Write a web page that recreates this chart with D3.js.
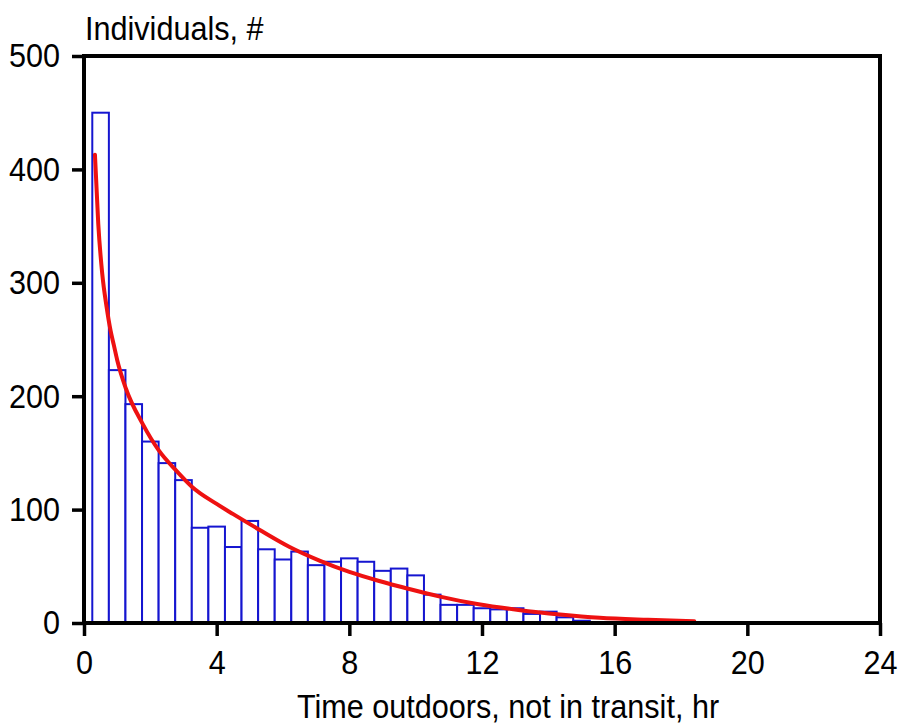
<!DOCTYPE html>
<html>
<head>
<meta charset="utf-8">
<script src="https://cdn.jsdelivr.net/npm/d3@7"></script>
<style>
  body { margin: 0; background: #fff; }
  svg text { font-family: "Liberation Sans", Arial, sans-serif; fill: #000; }
</style>
</head>
<body>
<div id="chart"></div>
<script>
// histogram bin centres (hr) and counts
const binCentres = [0.5, 1, 1.5, 2, 2.5, 3, 3.5, 4, 4.5, 5, 5.5, 6, 6.5, 7, 7.5,
  8, 8.5, 9, 9.5, 10, 10.5, 11, 11.5, 12, 12.5, 13, 13.5, 14, 14.5, 15];
const counts = [450, 223, 193, 160, 141, 126, 84, 85, 67, 90, 65, 56, 63, 51, 54,
  57, 54, 46, 48, 42, 25, 16, 16, 13, 12, 13, 8, 10, 5, 2];
const binWidth = 0.5;

// fitted curve
const fitX = [0.33, 0.43, 0.55, 0.68, 0.8, 0.9, 1.0, 1.26, 1.76, 2.26, 2.76, 3.26,
  4.0, 4.5, 5.3, 6.2, 7.1, 8.0, 8.9, 9.8, 10.7, 11.9, 13.1, 14.35, 15.55, 17.0, 18.4];
const fitY = [413, 352, 308, 279, 258, 245, 232, 207, 176, 152, 135, 120,
  105, 96, 82, 67, 55, 45, 37, 30, 23.5, 16.5, 11.5, 7.5, 4.6, 2.8, 1.5];

const xTicks = [0, 4, 8, 12, 16, 20, 24];
const yTicks = [0, 100, 200, 300, 400, 500];

const margin = { top: 56, right: 27, bottom: 101, left: 84 },
  width = 907 - margin.left - margin.right,
  height = 724 - margin.top - margin.bottom;

const fontSize = 34,
  squeeze = 0.9; // the labels are a narrow sans

const svg = d3
  .select("#chart")
  .append("svg")
  .attr("width", 907)
  .attr("height", 724);

const g = svg
  .append("g")
  .attr("transform", "translate(" + margin.left + "," + margin.top + ")");

const xScale = d3.scaleLinear().domain([0, 24]).range([0, width]);
const yScale = d3.scaleLinear().domain([0, 500]).range([height, 0]);

// bars
g.selectAll("rect.bar")
  .data(binCentres)
  .enter()
  .append("rect")
  .attr("class", "bar")
  .attr("x", (d) => xScale(d - binWidth / 2))
  .attr("width", xScale(binWidth) - xScale(0))
  .attr("y", (d, i) => yScale(counts[i]))
  .attr("height", (d, i) => height - yScale(counts[i]))
  .attr("fill", "#fff")
  .attr("stroke", "#1515d0")
  .attr("stroke-width", 2);

// fit curve
const line = d3
  .line()
  .x((d) => xScale(d[0]))
  .y((d) => yScale(d[1]))
  .curve(d3.curveMonotoneX);

g.append("path")
  .datum(fitX.map((x, i) => [x, fitY[i]]))
  .attr("d", line)
  .attr("fill", "none")
  .attr("stroke", "#ee1111")
  .attr("stroke-width", 4)
  .attr("stroke-linecap", "round");

// axes
const xAxis = d3.axisBottom(xScale).tickValues(xTicks).tickSize(13).tickPadding(14);
const yAxis = d3.axisLeft(yScale).tickValues(yTicks).tickSize(12).tickPadding(12);

const xAxisG = g
  .append("g")
  .attr("transform", "translate(0," + height + ")")
  .call(xAxis);
const yAxisG = g.append("g").call(yAxis);

[xAxisG, yAxisG].forEach((a) => {
  a.select(".domain").remove();
  a.selectAll(".tick line").attr("stroke", "#000").attr("stroke-width", 3.5);
  a.selectAll(".tick text")
    .attr("font-size", fontSize)
    .attr("fill", "#000")
    .attr("x", function () {
      return +d3.select(this).attr("x") / squeeze;
    })
    .attr("transform", "scale(" + squeeze + ",1)");
});
xAxisG.selectAll(".tick text").attr("dy", "0.71em");

// frame
g.append("rect")
  .attr("x", 0)
  .attr("y", 0)
  .attr("width", width)
  .attr("height", height)
  .attr("fill", "none")
  .attr("stroke", "#000")
  .attr("stroke-width", 4);

// titles
svg
  .append("text")
  .attr("transform", "translate(85,40) scale(" + squeeze + ",1)")
  .attr("font-size", fontSize)
  .text("Individuals, #");

svg
  .append("text")
  .attr("transform", "translate(508,718) scale(" + squeeze + ",1)")
  .attr("text-anchor", "middle")
  .attr("font-size", fontSize)
  .text("Time outdoors, not in transit, hr");
</script>
</body>
</html>
